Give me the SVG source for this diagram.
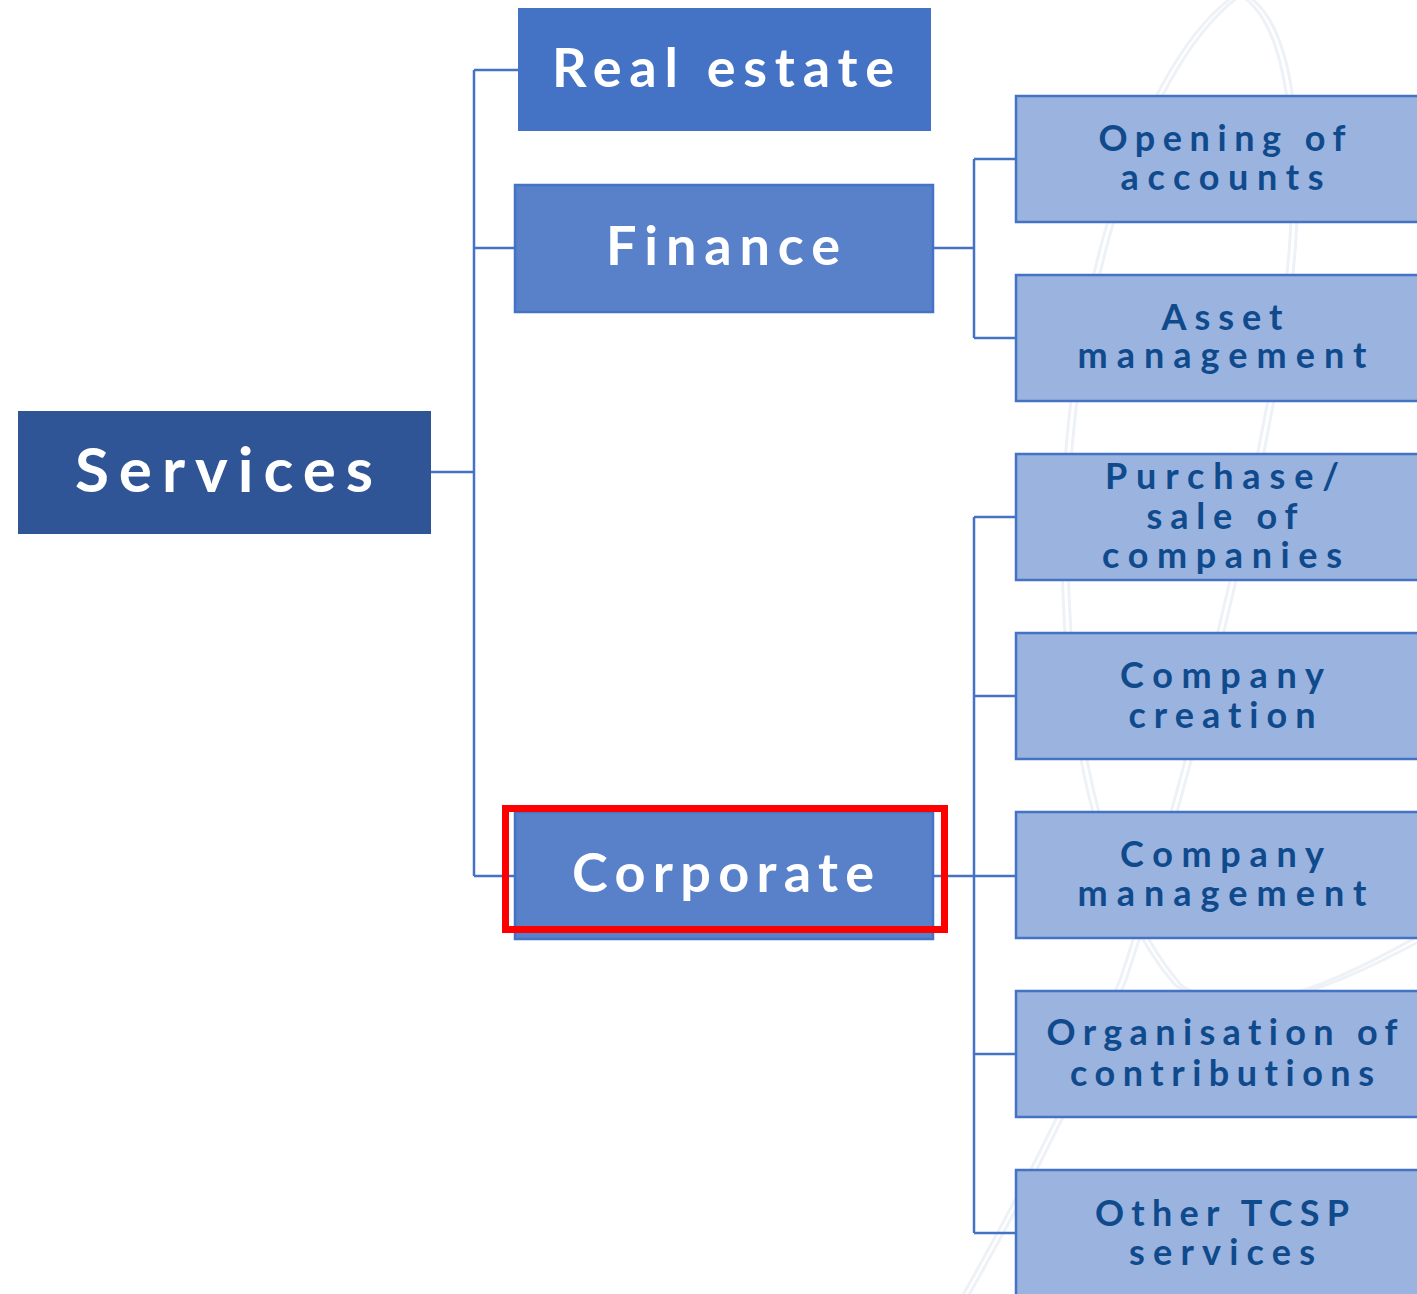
<svg xmlns="http://www.w3.org/2000/svg" width="1417" height="1294" viewBox="0 0 1417 1294">
<style>
.bg{fill:none;stroke:#eef2f7;stroke-width:3}
.c{fill:none;stroke:#4472c4;stroke-width:2.5}
.t1{font-family:"Lato","Liberation Sans",sans-serif;font-weight:700;fill:#ffffff;text-anchor:middle;font-variant-ligatures:none}
.t2{font-family:"Lato","Liberation Sans",sans-serif;font-weight:700;font-size:36px;fill:#0f4a8d;text-anchor:middle;font-variant-ligatures:none}
.leaf{fill:#9bb3df;stroke:#4472c4;stroke-width:2.5}
.mid{fill:#5881ca;stroke:#4472c4;stroke-width:2.5}
</style>
<rect width="1417" height="1294" fill="#ffffff"/>
<g id="background">
<path class="bg" d="M1240 -5 C1300 30 1300 200 1280 330 C1250 520 1180 800 1120 980 C1060 1120 1000 1230 960 1300"/>
<path class="bg" d="M1246 -5 C1306 30 1306 200 1286 330 C1256 520 1186 800 1126 980 C1066 1120 1006 1230 966 1300"/>
<path class="bg" d="M1235 -5 C1130 70 1062 330 1062 540 C1062 760 1110 910 1175 985 C1240 1030 1340 980 1420 935"/>
<path class="bg" d="M1241 -5 C1136 70 1068 330 1068 540 C1068 760 1116 910 1181 985 C1246 1030 1346 980 1420 941"/>
<path class="bg" d="M1355 1300 L1420 1175"/>
</g>
<g id="connectors">
<path class="c" d="M431 472 H474"/>
<path class="c" d="M474 70 V876"/>
<path class="c" d="M474 70 H518 M474 248 H515 M474 876 H515"/>
<path class="c" d="M933 248 H974 M974 159 V338 M974 159 H1016 M974 338 H1016"/>
<path class="c" d="M933 876 H1016 M974 517 V1233 M974 517 H1016 M974 696 H1016 M974 1054 H1016 M974 1233 H1016"/>
</g>
<g id="services">
<rect x="18" y="411" width="413" height="123" fill="#2f5597"/>
<text class="t1" x="224" y="492" font-size="62" textLength="298" lengthAdjust="spacing">Services</text>
</g>
<g id="real-estate">
<rect x="518" y="8" width="413" height="123" fill="#4472c4"/>
<text class="t1" x="723" y="87" font-size="54" textLength="342" lengthAdjust="spacing">Real estate</text>
</g>
<g id="finance">
<rect class="mid" x="515" y="185" width="418" height="127"/>
<text class="t1" x="723" y="265" font-size="54" textLength="234" lengthAdjust="spacing">Finance</text>
</g>
<g id="corporate">
<rect class="mid" x="515" y="812" width="418" height="127"/>
<text class="t1" x="723" y="892" font-size="54" textLength="302" lengthAdjust="spacing">Corporate</text>
<rect x="505.5" y="808.5" width="439" height="121" fill="none" stroke="#ff0000" stroke-width="7"/>
</g>
<g id="opening-of-accounts">
<rect class="leaf" x="1016" y="96" width="410" height="126"/>
<text class="t2" x="1222" y="151" textLength="247" lengthAdjust="spacing">Opening of</text>
<text class="t2" x="1222" y="190" textLength="203" lengthAdjust="spacing">accounts</text>
</g>
<g id="asset-management">
<rect class="leaf" x="1016" y="275" width="410" height="126"/>
<text class="t2" x="1222" y="330" textLength="121" lengthAdjust="spacing">Asset</text>
<text class="t2" x="1222" y="368" textLength="289" lengthAdjust="spacing">management</text>
</g>
<g id="purchase-sale">
<rect class="leaf" x="1016" y="454" width="410" height="126"/>
<text class="t2" x="1222" y="489" textLength="234" lengthAdjust="spacing">Purchase/</text>
<text class="t2" x="1222" y="529" textLength="151" lengthAdjust="spacing">sale of</text>
<text class="t2" x="1222" y="568" textLength="240" lengthAdjust="spacing">companies</text>
</g>
<g id="company-creation">
<rect class="leaf" x="1016" y="633" width="410" height="126"/>
<text class="t2" x="1222" y="688" textLength="204" lengthAdjust="spacing">Company</text>
<text class="t2" x="1222" y="728" textLength="187" lengthAdjust="spacing">creation</text>
</g>
<g id="company-management">
<rect class="leaf" x="1016" y="812" width="410" height="126"/>
<text class="t2" x="1222" y="867" textLength="204" lengthAdjust="spacing">Company</text>
<text class="t2" x="1222" y="906" textLength="289" lengthAdjust="spacing">management</text>
</g>
<g id="organisation-of-contributions">
<rect class="leaf" x="1016" y="991" width="410" height="126"/>
<text class="t2" x="1222" y="1045" textLength="351" lengthAdjust="spacing">Organisation of</text>
<text class="t2" x="1222" y="1086" textLength="304" lengthAdjust="spacing">contributions</text>
</g>
<g id="other-tcsp-services">
<rect class="leaf" x="1016" y="1170" width="410" height="130"/>
<text class="t2" x="1222" y="1226" textLength="254" lengthAdjust="spacing">Other TCSP</text>
<text class="t2" x="1222" y="1265" textLength="186" lengthAdjust="spacing">services</text>
</g>
</svg>
